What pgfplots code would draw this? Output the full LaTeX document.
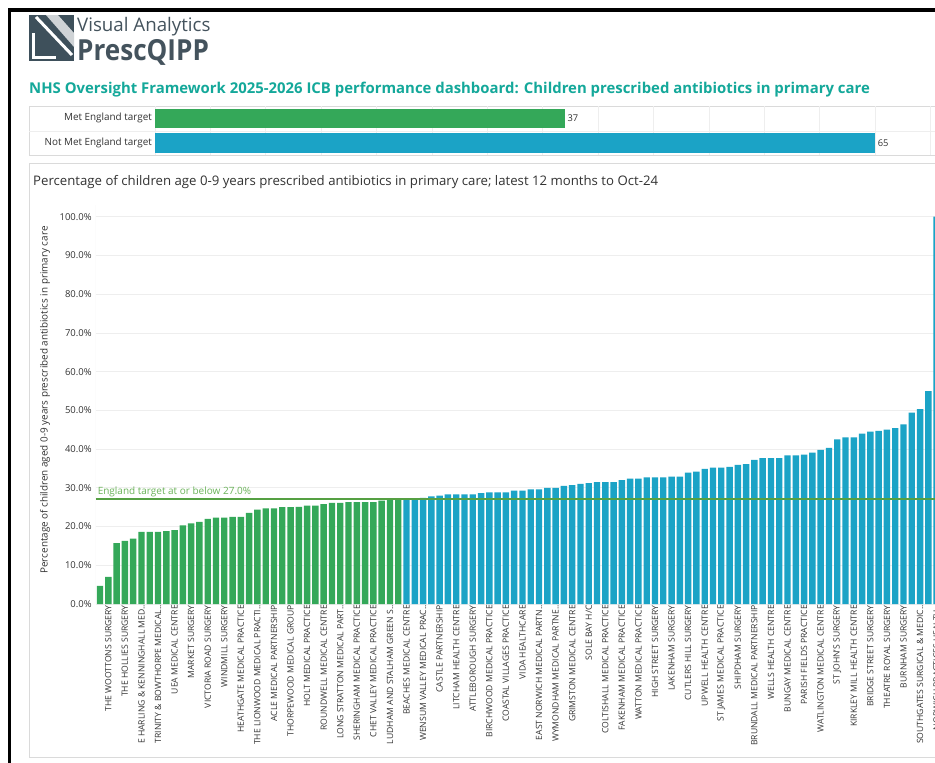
\documentclass[border=0pt]{standalone}
\usepackage{fontspec}
\setmainfont{Open Sans}
\usepackage{pgfplots}
\pgfplotsset{compat=1.18}
\definecolor{gbar}{HTML}{34A859}
\definecolor{bbar}{HTML}{1BA3C6}
\definecolor{ttl}{HTML}{14A89A}
\definecolor{targetgreen}{HTML}{55A043}
\definecolor{ttext}{HTML}{6BB35A}
\definecolor{gridc}{HTML}{EEEEEE}
\definecolor{panel}{HTML}{DADADA}
\definecolor{slate}{HTML}{3E505B}
\definecolor{logot}{HTML}{44535D}
\definecolor{txt}{HTML}{333333}
\begin{document}
\begin{tikzpicture}
\begin{scope}[x=1pt,y=-1pt]
\fill[white] (0,0) rectangle (935,763);
% panels
\draw[panel,line width=0.8pt] (29,106) rectangle (960,155);
\draw[gridc,line width=0.8pt] (29,131) -- (960,131);
\draw[panel,line width=0.8pt] (29,163) rectangle (960,757);
% logo
\fill[slate] (29,15) rectangle (74,61);
\fill[white!75!slate] (46,15) -- (58,15) -- (74,33) -- (74,47) -- cycle;
\draw[white,line width=3pt] (36,17) -- (72,55);
\draw[white,line width=3pt] (33,33) -- (33,57) -- (56,57);
\node[anchor=base west,inner sep=0pt,text=logot,font=\fontsize{18.7}{20}\selectfont] at (77,31.7) {Visual Analytics};
\node[anchor=base west,inner sep=0pt,text=logot,font=\fontsize{29}{30}\selectfont\bfseries,xscale=0.9] at (77,60) {PrescQIPP};
% title
\node[anchor=base west,inner sep=0pt,text=ttl,font=\fontsize{14.9}{16}\selectfont\bfseries] at (29,93) {NHS Oversight Framework 2025-2026 ICB performance dashboard: Children prescribed antibiotics in primary care};
% chart title
\node[anchor=base west,inner sep=0pt,text=txt,font=\fontsize{13.2}{14}\selectfont] at (33,185) {Percentage of children age 0-9 years prescribed antibiotics in primary care; latest 12 months to Oct-24};
% y label
\node[rotate=90,inner sep=0pt,text=txt,font=\fontsize{9.9}{11}\selectfont] at (45,400) {Percentage of children aged 0-9 years prescribed antibiotics in primary care};
\end{scope}

% small summary bar chart
\begin{axis}[
  at={(155pt,-155pt)}, anchor=south west,
  scale only axis, width=797.8pt, height=49pt,
  xbar, bar width=19.5pt,
  xmin=0, xmax=72, ymin=-0.5, ymax=1.5,
  ytick={0,1}, yticklabels={Not Met England target,Met England target},
  xtick={0,5,...,70}, xticklabels={},
  xmajorgrids, grid style={gridc,line width=0.8pt},
  axis line style={draw=none}, major tick length=0pt,
  yticklabel style={font=\fontsize{9.9}{11}\selectfont,text=txt,inner sep=1pt,xshift=-2pt},
  nodes near coords,
  every node near coord/.append style={font=\fontsize{9.3}{10}\selectfont,text=txt,anchor=west,xshift=-1pt},
  /pgf/number format/assume math mode=true,
  clip=false,
]
\addplot[fill=gbar,draw=none,bar shift=0pt] coordinates {(37,1)};
\addplot[fill=bbar,draw=none,bar shift=0pt] coordinates {(65,0)};
\end{axis}

% main chart
\begin{axis}[
  at={(95.9pt,-604pt)}, anchor=south west,
  scale only axis, width=845.7pt, height=398.9pt,
  bar width=6.4pt,
  xmin=-0.5, xmax=101.6, ymin=0, ymax=103,
  ytick={0,10,...,100},
  yticklabels={0.0\%,10.0\%,20.0\%,30.0\%,40.0\%,50.0\%,60.0\%,70.0\%,80.0\%,90.0\%,100.0\%},
  ymajorgrids, grid style={gridc,line width=0.8pt},
  axis line style={draw=none}, major tick length=0pt,
  yticklabel style={font=\fontsize{9.5}{10}\selectfont,text=txt,inner sep=1pt,xshift=-3pt},
  xtick={1,3,...,101},
  xticklabels={THE WOOTTONS SURGERY,THE HOLLIES SURGERY,E HARLING \& KENNINGHALL MED..,TRINITY \& BOWTHORPE MEDICAL..,UEA MEDICAL CENTRE,MARKET SURGERY,VICTORIA ROAD SURGERY,WINDMILL SURGERY,HEATHGATE MEDICAL PRACTICE,THE LIONWOOD MEDICAL PRACTI..,ACLE MEDICAL PARTNERSHIP,THORPEWOOD MEDICAL GROUP,HOLT MEDICAL PRACTICE,ROUNDWELL MEDICAL CENTRE,LONG STRATTON MEDICAL PART..,SHERINGHAM MEDICAL PRACTICE,CHET VALLEY MEDICAL PRACTICE,LUDHAM AND STALHAM GREEN S..,BEACHES MEDICAL CENTRE,WENSUM VALLEY MEDICAL PRAC..,CASTLE PARTNERSHIP,LITCHAM HEALTH CENTRE,ATTLEBOROUGH SURGERY,BIRCHWOOD MEDICAL PRACTICE,COASTAL VILLAGES PRACTICE,VIDA HEALTHCARE,EAST NORWICH MEDICAL PARTN..,WYMONDHAM MEDICAL PARTNE..,GRIMSTON MEDICAL CENTRE,SOLE BAY H/C,COLTISHALL MEDICAL PRACTICE,FAKENHAM MEDICAL PRACTICE,WATTON MEDICAL PRACTICE,HIGH STREET SURGERY,LAKENHAM SURGERY,CUTLERS HILL SURGERY,UPWELL HEALTH CENTRE,ST JAMES MEDICAL PRACTICE,SHIPDHAM SURGERY,BRUNDALL MEDICAL PARTNERSHIP,WELLS HEALTH CENTRE,BUNGAY MEDICAL CENTRE,PARISH FIELDS PRACTICE,WATLINGTON MEDICAL CENTRE,ST JOHN'S SURGERY,KIRKLEY MILL HEALTH CENTRE,BRIDGE STREET SURGERY,THEATRE ROYAL SURGERY,BURNHAM SURGERY,SOUTHGATES SURGICAL \& MEDIC..,NORWICH PRACTICES HEALTH..},
  xticklabel style={rotate=90,anchor=east,font=\fontsize{8.6}{9}\selectfont,text=txt,inner sep=1pt},
  /pgf/number format/assume math mode=true,
]
\draw[gridc,line width=0.8pt] (axis cs:-0.5,0) -- (axis cs:-0.5,103);
\addplot[ybar,bar shift=0pt,fill=gbar,draw=none] coordinates {
(0,4.7) (1,7.0) (2,15.7) (3,16.3) (4,16.9) (5,18.6) (6,18.6) (7,18.6) (8,18.8) (9,19.1)
(10,20.3) (11,20.8) (12,21.2) (13,22.0) (14,22.3) (15,22.3) (16,22.5) (17,22.5) (18,23.5) (19,24.4)
(20,24.7) (21,24.7) (22,25.0) (23,25.0) (24,25.1) (25,25.4) (26,25.4) (27,25.8) (28,26.1) (29,26.1)
(30,26.3) (31,26.3) (32,26.3) (33,26.3) (34,26.7) (35,26.8) (36,26.9)
};
\addplot[ybar,bar shift=0pt,fill=bbar,draw=none] coordinates {
(37,27.1) (38,27.1) (39,27.4) (40,27.8) (41,28.0) (42,28.3) (43,28.3) (44,28.3) (45,28.3) (46,28.6)
(47,28.8) (48,28.8) (49,28.8) (50,29.3) (51,29.3) (52,29.6) (53,29.6) (54,30.0) (55,30.0) (56,30.5)
(57,30.7) (58,31.0) (59,31.2) (60,31.5) (61,31.5) (62,31.5) (63,32.0) (64,32.4) (65,32.4) (66,32.7)
(67,32.7) (68,32.7) (69,32.9) (70,32.9) (71,33.9) (72,34.2) (73,34.9) (74,35.2) (75,35.2) (76,35.4)
(77,35.9) (78,36.1) (79,37.2) (80,37.7) (81,37.7) (82,37.7) (83,38.4) (84,38.4) (85,38.6) (86,39.1)
(87,39.8) (88,40.3) (89,42.5) (90,43.0) (91,43.0) (92,44.0) (93,44.5) (94,44.7) (95,45.0) (96,45.4)
(97,46.4) (98,49.4) (99,50.3) (100,55.0) (101,100.0)
};
\draw[draw=targetgreen,line width=2pt] (axis cs:-0.5,27) -- (axis cs:101.6,27);
\node[anchor=base west,inner sep=0pt,text=ttext,font=\fontsize{10}{11}\selectfont] at (axis cs:-0.3,28.3) {England target at or below 27.0\%};
\end{axis}

% outer frame
\begin{scope}[x=1pt,y=-1pt]
\draw[black,line width=3.5pt] (9.5,10) -- (940,10);
\draw[black,line width=3.5pt] (9.5,8.25) -- (9.5,770);
\end{scope}
\pgfresetboundingbox
\path (0pt,0pt) rectangle (935pt,-763pt);
\end{tikzpicture}
\end{document}
